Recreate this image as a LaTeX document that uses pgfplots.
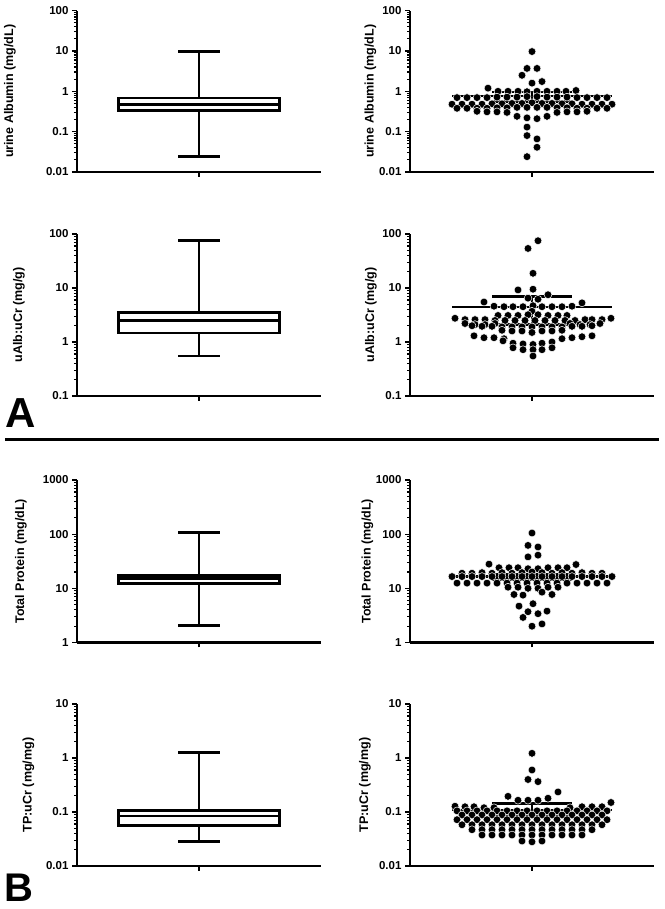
\documentclass[border=0pt]{standalone}
\usepackage{fontspec}
\setmainfont{Liberation Sans}
\usepackage{pgfplots}
\pgfplotsset{compat=1.18}
\pgfplotsset{
  panel/.style={
    scale only axis, width=244pt, anchor=south west,
    xmin=0, xmax=244,
    axis lines=left, axis line style={line width=2.8pt,-},
    tick align=outside, major tick length=5pt, minor tick length=3pt,
    tick style={black, line width=1.2pt},
    x tick style={line width=2pt},
    xtick={122}, xticklabels={},
    tick label style={font=\fontsize{11.5}{13}\selectfont\bfseries},
    ylabel style={font=\fontsize{12.5}{14}\selectfont\bfseries, anchor=center},
    clip=false,
  },
  ylabpos/.style={ylabel style={at={(axis description cs:#1,0.5)}}},
  bx/.style={black, line width=2.8pt, fill=white, line join=miter},
  wh/.style={black, line width=2.8pt},
  dots/.style={only marks, mark=*, mark size=3.9pt, mark options={fill=black, draw=white, line width=0.5pt}},
  meanline/.style={black, line width=2.2pt},
  semline/.style={black, line width=2.6pt},
}
\begin{document}
\begin{tikzpicture}
\path[use as bounding box] (0pt,0pt) rectangle (664pt,909pt);

% ---------------- Row 1 ----------------
\begin{axis}[panel, ymode=log, at={(77pt,737pt)}, height=161.3pt, ymin=0.01, ymax=100,
  ytick={0.01,0.1,1,10,100}, yticklabels={0.01,0.1,1,10,100},
  minor ytick={0.02,0.03,0.04,0.05,0.06,0.07,0.08,0.09,0.2,0.3,0.4,0.5,0.6,0.7,0.8,0.9,2,3,4,5,6,7,8,9,20,30,40,50,60,70,80,90},
  ylabel={urine Albumin (mg/dL)}, ylabpos=-0.2746]
\addplot[wh] coordinates {(122,0.0245) (122,9.7)};
\addplot[wh] coordinates {(101,9.7) (143,9.7)};
\addplot[wh] coordinates {(101,0.0245) (143,0.0245)};
\addplot[bx] coordinates {(41.5,0.33) (202.5,0.33) (202.5,0.68) (41.5,0.68)} -- cycle;
\addplot[wh] coordinates {(41.5,0.48) (202.5,0.48)};
\end{axis}

\begin{axis}[panel, ymode=log, at={(410pt,737pt)}, height=161.3pt, ymin=0.01, ymax=100,
  ytick={0.01,0.1,1,10,100}, yticklabels={0.01,0.1,1,10,100},
  minor ytick={0.02,0.03,0.04,0.05,0.06,0.07,0.08,0.09,0.2,0.3,0.4,0.5,0.6,0.7,0.8,0.9,2,3,4,5,6,7,8,9,20,30,40,50,60,70,80,90},
  ylabel={urine Albumin (mg/dL)}, ylabpos=-0.1619]
\addplot[meanline] coordinates {(42,0.76) (202,0.76)};
\addplot[semline] coordinates {(82,0.96) (162,0.96)};
\addplot[semline] coordinates {(82,0.56) (162,0.56)};
\addplot[semline] coordinates {(122,0.56) (122,0.96)};
\addplot[dots] coordinates {
(122,9.7) (117,3.7) (127,3.7) (112,2.5) (122,1.6) (132,1.75) (78,1.2)
(88,1.0) (98,1.0) (108,1.0) (117,0.98) (127,1.0) (137,1.0) (147,1.0) (156,1.0) (166,1.05)
(47,0.7) (57,0.7) (67,0.7) (77,0.7) (87,0.72) (97,0.72) (107,0.72) (117,0.74) (127,0.74) (137,0.72) (147,0.72) (157,0.72) (167,0.7) (177,0.7) (187,0.7) (197,0.7)
(42,0.48) (52,0.48) (62,0.48) (72,0.48) (82,0.49) (92,0.49) (102,0.5) (112,0.5) (122,0.52) (132,0.5) (142,0.5) (152,0.49) (162,0.49) (172,0.48) (182,0.48) (192,0.48) (202,0.48)
(47,0.38) (57,0.38) (67,0.38) (77,0.38) (87,0.39) (97,0.39) (107,0.4) (117,0.4) (127,0.4) (137,0.4) (147,0.39) (157,0.39) (167,0.38) (177,0.38) (187,0.38) (197,0.38)
(67,0.32) (77,0.31) (87,0.31) (97,0.3) (147,0.3) (157,0.31) (167,0.31) (177,0.32)
(107,0.24) (117,0.22) (127,0.21) (137,0.24)
(117,0.13) (117,0.08) (127,0.066) (127,0.041) (117,0.024)
};
\end{axis}

% ---------------- Row 2 ----------------
\begin{axis}[panel, ymode=log, at={(77pt,513pt)}, height=162pt, ymin=0.1, ymax=100,
  ytick={0.1,1,10,100}, yticklabels={0.1,1,10,100},
  minor ytick={0.2,0.3,0.4,0.5,0.6,0.7,0.8,0.9,2,3,4,5,6,7,8,9,20,30,40,50,60,70,80,90},
  ylabel={uAlb:uCr (mg/g)}, ylabpos=-0.2377]
\addplot[wh] coordinates {(122,0.55) (122,77)};
\addplot[wh] coordinates {(101,77) (143,77)};
\addplot[wh] coordinates {(101,0.55) (143,0.55)};
\addplot[bx] coordinates {(41.5,1.47) (202.5,1.47) (202.5,3.5) (41.5,3.5)} -- cycle;
\addplot[wh] coordinates {(41.5,2.5) (202.5,2.5)};
\end{axis}

\begin{axis}[panel, ymode=log, at={(410pt,513pt)}, height=162pt, ymin=0.1, ymax=100,
  ytick={0.1,1,10,100}, yticklabels={0.1,1,10,100},
  minor ytick={0.2,0.3,0.4,0.5,0.6,0.7,0.8,0.9,2,3,4,5,6,7,8,9,20,30,40,50,60,70,80,90},
  ylabel={uAlb:uCr (mg/g)}, ylabpos=-0.1598]
\addplot[meanline] coordinates {(42,4.5) (202,4.5)};
\addplot[semline] coordinates {(82,7.0) (162,7.0)};
\addplot[semline] coordinates {(82,2.1) (162,2.1)};
\addplot[semline] coordinates {(122,2.1) (122,7.0)};
\addplot[dots] coordinates {
(128,75) (118,54) (123,18.7) (108,9.2) (123,9.5) (138,7.5) (118,6.5) (128,6.2)
(74,5.5) (172,5.3)
(84,4.6) (94,4.5) (103,4.5) (113,4.5) (123,4.7) (132,4.5) (142,4.5) (152,4.5) (162,4.6)
(122,3.7)
(88,3.1) (98,3.1) (108,3.1) (118,3.2) (128,3.2) (138,3.1) (148,3.1) (157,3.1)
(45,2.75) (55,2.6) (65,2.6) (75,2.6) (85,2.5) (95,2.5) (105,2.5) (115,2.5) (125,2.5) (135,2.5) (145,2.5) (155,2.5) (165,2.5) (175,2.6) (182,2.6) (192,2.6) (201,2.75)
(55,2.2) (65,2.1) (75,2.1) (85,2.2) (160,2.2) (170,2.1) (180,2.1) (190,2.2)
(62,2.0) (72,1.95) (82,1.95) (92,1.9) (102,1.9) (112,1.9) (122,1.9) (132,1.9) (142,1.9) (152,1.9) (162,1.95) (172,1.95) (182,2.0)
(92,1.65) (102,1.6) (112,1.6) (122,1.5) (132,1.6) (142,1.6) (152,1.65)
(64,1.3) (74,1.2) (84,1.2) (94,1.15) (152,1.15) (162,1.2) (172,1.25) (182,1.3)
(93,1.05) (103,0.95) (113,0.92) (123,0.9) (132,0.95) (142,1.0)
(103,0.78) (113,0.72) (123,0.72) (132,0.72) (142,0.78)
(123,0.55)
};
\end{axis}

% ---------------- Row 3 ----------------
\begin{axis}[panel, ymode=log, at={(77pt,266.5pt)}, height=162.5pt, ymin=1, ymax=1000,
  ytick={1,10,100,1000}, yticklabels={1,10,100,1000},
  minor ytick={2,3,4,5,6,7,8,9,20,30,40,50,60,70,80,90,200,300,400,500,600,700,800,900},
  ylabel={Total Protein (mg/dL)}, ylabpos=-0.2295]
\addplot[wh] coordinates {(122,2.05) (122,108)};
\addplot[wh] coordinates {(101,108) (143,108)};
\addplot[wh] coordinates {(101,2.05) (143,2.05)};
\addplot[bx] coordinates {(41.5,12.3) (202.5,12.3) (202.5,17.5) (41.5,17.5)} -- cycle;
\addplot[wh] coordinates {(41.5,15.2) (202.5,15.2)};
\end{axis}

\begin{axis}[panel, ymode=log, at={(410pt,266.5pt)}, height=162.5pt, ymin=1, ymax=1000,
  ytick={1,10,100,1000}, yticklabels={1,10,100,1000},
  minor ytick={2,3,4,5,6,7,8,9,20,30,40,50,60,70,80,90,200,300,400,500,600,700,800,900},
  ylabel={Total Protein (mg/dL)}, ylabpos=-0.1742]
\addplot[meanline] coordinates {(42,16.5) (202,16.5)};
\addplot[semline] coordinates {(82,18.5) (162,18.5)};
\addplot[semline] coordinates {(82,14.5) (162,14.5)};
\addplot[semline] coordinates {(122,14.5) (122,18.5)};
\addplot[dots] coordinates {
(122,105) (118,62) (128,58) (118,38) (128,41) (79,28) (166,27.5)
(89,24) (99,24) (108,24) (118,23) (128,23) (138,24) (148,24) (157,24)
(52,19) (62,19) (72,19.5) (82,19) (92,19.5) (102,19) (112,19.5) (122,20) (132,19.5) (142,19) (152,19.5) (162,19) (172,19.5) (182,19) (192,19)
(42,16.5) (52,16.5) (62,16.5) (72,16.5) (82,16.5) (92,16.5) (102,16.5) (112,16.5) (122,16.5) (132,16.5) (142,16.5) (152,16.5) (162,16.5) (172,16.5) (182,16.5) (192,16.5) (202,16.5)
(47,12.5) (57,12.5) (67,12.5) (77,12.5) (87,12.5) (97,12.5) (107,12.5) (117,12.5) (127,12.5) (137,12.5) (147,12.5) (157,12.5) (167,12.5) (177,12.5) (187,12.5) (197,12.5)
(98,10.5) (108,10.5) (118,10) (128,10) (138,10.5) (148,10.5)
(104,7.7) (113,7.5) (142,7.7) (132,8.5)
(109,4.7) (123,5.2) (118,3.7) (137,3.8) (113,2.9) (128,3.4) (122,2.0) (132,2.2)
};
\end{axis}

% ---------------- Row 4 ----------------
\begin{axis}[panel, ymode=log, at={(77pt,43pt)}, height=162pt, ymin=0.01, ymax=10,
  ytick={0.01,0.1,1,10}, yticklabels={0.01,0.1,1,10},
  minor ytick={0.02,0.03,0.04,0.05,0.06,0.07,0.08,0.09,0.2,0.3,0.4,0.5,0.6,0.7,0.8,0.9,2,3,4,5,6,7,8,9},
  ylabel={TP:uCr (mg/mg)}, ylabpos=-0.1988]
\addplot[wh] coordinates {(122,0.028) (122,1.25)};
\addplot[wh] coordinates {(101,1.25) (143,1.25)};
\addplot[wh] coordinates {(101,0.028) (143,0.028)};
\addplot[bx] coordinates {(41.5,0.056) (202.5,0.056) (202.5,0.106) (41.5,0.106)} -- cycle;
\addplot[wh] coordinates {(41.5,0.084) (202.5,0.084)};
\end{axis}

\begin{axis}[panel, ymode=log, at={(410pt,43pt)}, height=162pt, ymin=0.01, ymax=10,
  ytick={0.01,0.1,1,10}, yticklabels={0.01,0.1,1,10},
  minor ytick={0.02,0.03,0.04,0.05,0.06,0.07,0.08,0.09,0.2,0.3,0.4,0.5,0.6,0.7,0.8,0.9,2,3,4,5,6,7,8,9},
  ylabel={TP:uCr (mg/mg)}, ylabpos=-0.1844]
\addplot[meanline] coordinates {(42,0.108) (202,0.108)};
\addplot[semline] coordinates {(82,0.143) (162,0.143)};
\addplot[semline] coordinates {(82,0.085) (162,0.085)};
\addplot[semline] coordinates {(122,0.085) (122,0.143)};
\addplot[dots] coordinates {
(122,1.22) (122,0.6) (118,0.40) (128,0.365) (148,0.235) (98,0.195) (138,0.18) (108,0.165) (118,0.165) (128,0.165)
(45,0.128) (55,0.125) (64,0.125) (74,0.12) (84,0.12) (160,0.12) (172,0.125) (182,0.125) (192,0.125) (201,0.15)
(47,0.105) (57,0.105) (67,0.105) (77,0.105) (87,0.105) (97,0.105) (107,0.105) (117,0.105) (127,0.105) (137,0.105) (147,0.105) (157,0.105) (167,0.105) (177,0.105) (187,0.105) (197,0.105)
(52,0.088) (62,0.088) (72,0.088) (82,0.088) (92,0.088) (102,0.088) (112,0.088) (122,0.088) (132,0.088) (142,0.088) (152,0.088) (162,0.088) (172,0.088) (182,0.088) (192,0.088)
(47,0.072) (57,0.072) (67,0.072) (77,0.072) (87,0.072) (97,0.072) (107,0.072) (117,0.072) (127,0.072) (137,0.072) (147,0.072) (157,0.072) (167,0.072) (177,0.072) (187,0.072) (197,0.072)
(52,0.058) (62,0.058) (72,0.058) (82,0.058) (92,0.058) (102,0.058) (112,0.058) (122,0.058) (132,0.058) (142,0.058) (152,0.058) (162,0.058) (172,0.058) (182,0.058) (192,0.058)
(62,0.047) (72,0.047) (82,0.047) (92,0.047) (102,0.047) (112,0.047) (122,0.047) (132,0.047) (142,0.047) (152,0.047) (162,0.047) (172,0.047) (182,0.047)
(72,0.0375) (82,0.0375) (92,0.0375) (102,0.0375) (112,0.0375) (122,0.0375) (132,0.0375) (142,0.0375) (152,0.0375) (162,0.0375) (172,0.0375)
(112,0.029) (122,0.028) (132,0.029)
};
\end{axis}

% divider and panel letters
\draw[line width=3.5pt] (5pt,469.5pt) -- (659pt,469.5pt);
\node[anchor=base west, inner sep=0pt, font=\fontsize{42}{42}\selectfont\bfseries] at (5pt,481pt) {A};
\node[anchor=base west, inner sep=0pt, font=\fontsize{40}{40}\selectfont\bfseries] at (4pt,8pt) {B};
\end{tikzpicture}
\end{document}
